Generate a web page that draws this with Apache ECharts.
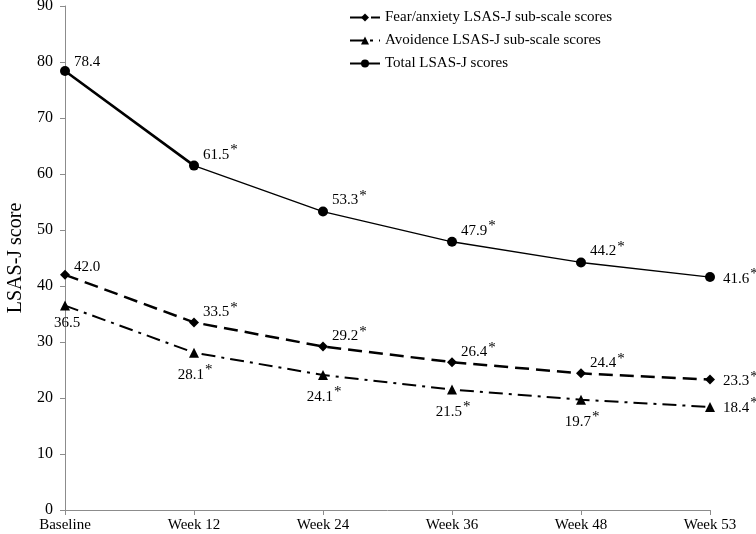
<!DOCTYPE html>
<html>
<head>
<meta charset="utf-8">
<script src="https://cdn.jsdelivr.net/npm/echarts@6/dist/echarts.min.js"></script>
<style>
  html, body { margin: 0; padding: 0; background: #fff; }
  #chart { width: 756px; height: 534px; }
</style>
</head>
<body>
<div id="chart"></div>
<script>
const categories = ['Baseline', 'Week 12', 'Week 24', 'Week 36', 'Week 48', 'Week 53'];
const fearScores = [42.0, 33.5, 29.2, 26.4, 24.4, 23.3];
const avoidScores = [36.5, 28.1, 24.1, 21.5, 19.7, 18.4];
const totalScores = [78.4, 61.5, 53.3, 47.9, 44.2, 41.6];
// significance marks (asterisk) for each time point
const significant = [false, true, true, true, true, true];
const yTicks = [0, 10, 20, 30, 40, 50, 60, 70, 80, 90];

const serif = '"Liberation Serif", "DejaVu Serif", serif';
const last = categories.length - 1;

function labelText(p) {
  return p.value.toFixed(1) + (significant[p.dataIndex] ? '{s|*}' : '');
}
const rich = { s: { fontFamily: serif, fontSize: 15, color: '#000', padding: [0, 0, 9, 1] } };

// label placement: above-right for the middle points, right for the end, below for avoidance
function pointsAbove(values, lift) {
  return values.map((v, i) => ({
    value: v,
    label: i === last
      ? { position: 'right', distance: 8, offset: [0, 2] }
      : { position: 'right', distance: 4, offset: [0, i === 0 ? -(lift - 2) : -lift] }
  }));
}
function pointsBelow(values) {
  return values.map((v, i) => ({
    value: v,
    label: i === last
      ? { position: 'right', distance: 8, offset: [0, 1] }
      : { position: 'bottom', distance: 5, offset: [i === 0 ? 2 : 1, 0] }
  }));
}

const chart = echarts.init(document.getElementById('chart'));
chart.setOption({
  animation: false,
  textStyle: { fontFamily: serif, color: '#000' },
  grid: { left: 65, right: 46, top: 6, bottom: 24, outerBoundsMode: 'none', containLabel: false },
  legend: {
    data: ['Fear/anxiety LSAS-J sub-scale scores', 'Avoidence LSAS-J sub-scale scores', 'Total LSAS-J scores'],
    orient: 'vertical',
    left: 344,
    top: 5,
    itemWidth: 30,
    itemHeight: 10,
    itemGap: 8,
    textStyle: { fontFamily: serif, fontSize: 15, color: '#000' }
  },
  xAxis: {
    type: 'category',
    data: categories,
    boundaryGap: false,
    axisLine: { lineStyle: { color: '#8c8c8c' } },
    axisTick: { alignWithLabel: true, length: 5, lineStyle: { color: '#8c8c8c' } },
    axisLabel: { fontFamily: serif, fontSize: 15, color: '#000', margin: 8, interval: 0 }
  },
  yAxis: {
    type: 'value',
    min: yTicks[0],
    max: yTicks[yTicks.length - 1],
    interval: 10,
    name: 'LSAS-J score',
    nameLocation: 'middle',
    nameGap: 35,
    nameTextStyle: { fontFamily: serif, fontSize: 20, color: '#000' },
    axisLine: { show: true, lineStyle: { color: '#8c8c8c' } },
    axisTick: { show: true, length: 5, lineStyle: { color: '#8c8c8c' } },
    axisLabel: { fontFamily: serif, fontSize: 16, color: '#000', margin: 12 },
    splitLine: { show: false }
  },
  series: [
    {
      name: 'Fear/anxiety LSAS-J sub-scale scores',
      type: 'line',
      data: pointsAbove(fearScores, 10),
      symbol: 'diamond',
      symbolSize: 10,
      itemStyle: { color: '#000' },
      lineStyle: { color: '#000', width: 2.5, type: [14, 7] },
      label: { show: true, formatter: labelText, rich: rich, fontFamily: serif, fontSize: 15, color: '#000' },
      z: 3
    },
    {
      name: 'Avoidence LSAS-J sub-scale scores',
      type: 'line',
      data: pointsBelow(avoidScores),
      symbol: 'triangle',
      symbolSize: 10,
      itemStyle: { color: '#000' },
      lineStyle: { color: '#000', width: 2, type: [14, 6, 3, 6] },
      label: { show: true, formatter: labelText, rich: rich, fontFamily: serif, fontSize: 15, color: '#000' },
      z: 3
    },
    {
      name: 'Total LSAS-J scores',
      type: 'line',
      data: pointsAbove(totalScores, 11),
      symbol: 'circle',
      symbolSize: 10,
      itemStyle: { color: '#000' },
      lineStyle: { color: '#000', width: 1.3 },
      label: { show: true, formatter: labelText, rich: rich, fontFamily: serif, fontSize: 15, color: '#000' },
      z: 3
    },
    {
      // the first segment of the total line is drawn heavier in the original
      type: 'line',
      data: totalScores.slice(0, 2),
      symbol: 'none',
      lineStyle: { color: '#000', width: 2.6 },
      silent: true,
      z: 2
    }
  ]
});
</script>
</body>
</html>
